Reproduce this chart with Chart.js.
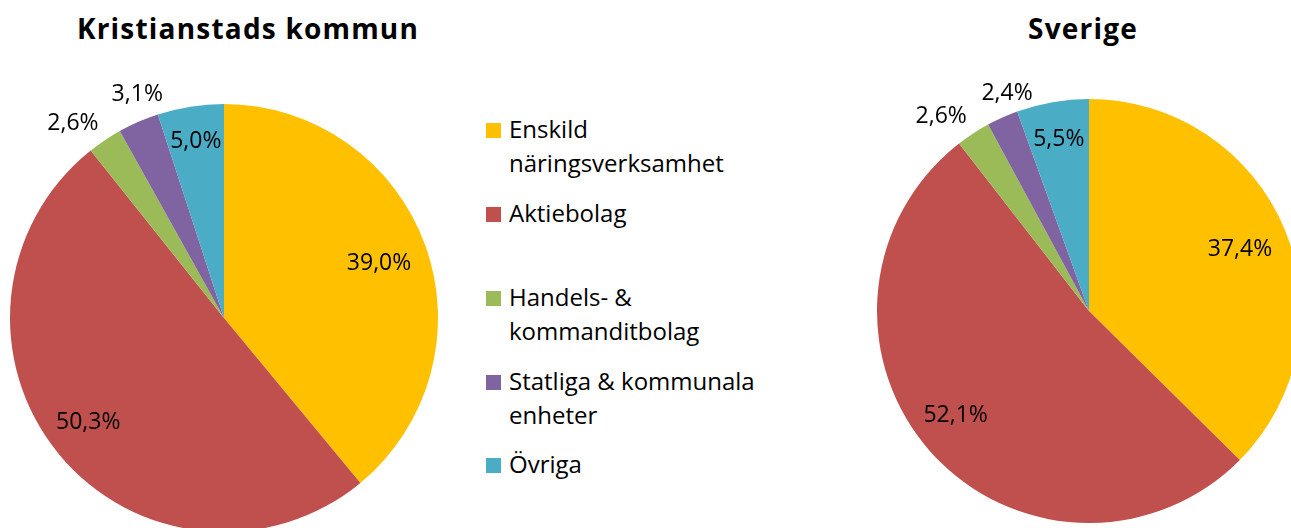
<!DOCTYPE html>
<html>
<head>
<meta charset="utf-8">
<script src="https://cdn.jsdelivr.net/npm/chart.js@4"></script>
<style>
  html, body { margin: 0; padding: 0; background: #fff; }
  body { width: 1291px; height: 528px; overflow: hidden; position: relative; font-family: 'Open Sans', sans-serif; color: #000; }
  .title { position: absolute; font-weight: bold; font-size: 28px; letter-spacing: 1.2px; line-height: 36px; text-align: center; white-space: nowrap; }
  .wrap { position: absolute; top: 0; }
  #legend { position: absolute; left: 486px; top: 0; font-size: 24px; line-height: 34px; }
  .item { position: absolute; left: 0; white-space: nowrap; }
  .box { position: absolute; left: 0; top: 11px; width: 15px; height: 15px; }
  .txt { position: absolute; left: 23px; top: 0; }
</style>
</head>
<body>
<div class="title" style="left:48px; width:400px; top:10px;">Kristianstads kommun</div>
<div class="title" style="left:983px; width:200px; top:10px;">Sverige</div>
<div class="wrap" style="left:0; width:460px; height:560px;"><canvas id="kommun"></canvas></div>
<div class="wrap" style="left:860px; width:460px; height:560px;"><canvas id="sverige"></canvas></div>
<div id="legend"></div>
<script>
// categories and values (percent)
const categories = ['Enskild näringsverksamhet', 'Aktiebolag', 'Handels- & kommanditbolag', 'Statliga & kommunala enheter', 'Övriga'];
const legendLines = [['Enskild', 'näringsverksamhet'], ['Aktiebolag'], ['Handels- &', 'kommanditbolag'], ['Statliga & kommunala', 'enheter'], ['Övriga']];
const kommunValues = [39.0, 50.3, 2.6, 3.1, 5.0];
const sverigeValues = [37.4, 52.1, 2.6, 2.4, 5.5];

const colors = ['#FFC000', '#C0504D', '#9BBB59', '#8064A2', '#4BACC6'];
// label placement: fraction of radius, and nudge in degrees off the slice middle
const kommunLabelR = [0.77, 0.795, 1.156, 1.127, 0.842];
const kommunLabelNudge = [0, 2, -3.8, 2.5, 0];
const sverigeLabelR = [0.772, 0.794, 1.158, 1.103, 0.828];
const sverigeLabelNudge = [0, 4, -3.9, 3.6, 0];

const fmt = v => v.toFixed(1).replace('.', ',') + '%';

const valueLabels = {
  id: 'valueLabels',
  afterDatasetsDraw(chart, args, opts) {
    const ctx = chart.ctx;
    const meta = chart.getDatasetMeta(0);
    const size = 23;
    ctx.save();
    ctx.font = size + 'px "Open Sans", sans-serif';
    ctx.fillStyle = '#000';
    ctx.textAlign = 'center';
    ctx.textBaseline = 'alphabetic';
    meta.data.forEach((arc, i) => {
      const p = arc.getProps(['x', 'y', 'startAngle', 'endAngle', 'outerRadius'], true);
      const mid = (p.startAngle + p.endAngle) / 2 + opts.nudge[i] * Math.PI / 180;
      const r = p.outerRadius * opts.radii[i];
      ctx.fillText(fmt(chart.data.datasets[0].data[i]), p.x + Math.cos(mid) * r, p.y + Math.sin(mid) * r + size * 0.357);
    });
    ctx.restore();
  }
};

function makePie(id, values, radii, nudge, padding) {
  return new Chart(document.getElementById(id), {
    type: 'pie',
    data: {
      labels: categories,
      datasets: [{ data: values, backgroundColor: colors, borderWidth: 0 }]
    },
    options: {
      responsive: true,
      maintainAspectRatio: false,
      animation: false,
      layout: { padding },
      plugins: {
        legend: { display: false },
        tooltip: { enabled: false },
        valueLabels: { radii, nudge }
      }
    },
    plugins: [valueLabels]
  });
}

makePie('kommun', kommunValues, kommunLabelR, kommunLabelNudge, { left: 10, top: 104, right: 22, bottom: 28 });
makePie('sverige', sverigeValues, sverigeLabelR, sverigeLabelNudge, { left: 17, top: 99, right: 19, bottom: 37 });

// legend
const legendBaselines = [138, 222, 306, 390, 473];
const legend = document.getElementById('legend');
categories.forEach((c, i) => {
  const it = document.createElement('div');
  it.className = 'item';
  it.style.top = (legendBaselines[i] - 26) + 'px';
  it.innerHTML = '<div class="box" style="background:' + colors[i] + '"></div><div class="txt">' + legendLines[i].join('<br>') + '</div>';
  legend.appendChild(it);
});
</script>
</body>
</html>
